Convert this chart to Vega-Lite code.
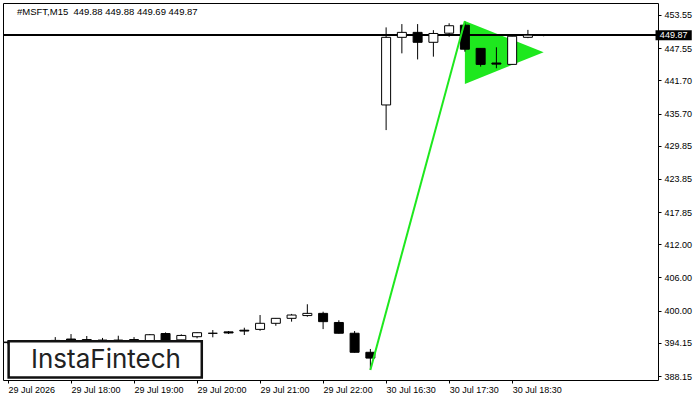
{
  "$schema": "https://vega.github.io/schema/vega-lite/v6.json",
  "width": 655,
  "height": 377,
  "autosize": {"type": "none"},
  "padding": {"left": 3, "top": 3, "right": 42, "bottom": 20},
  "background": "white",
  "config": {
    "view": {"stroke": "#000", "strokeWidth": 1},
    "font": "Liberation Sans",
    "axis": {"grid": false, "domain": false, "tickColor": "#000", "tickSize": 3, "labelColor": "#000", "labelFont": "Liberation Sans", "labelFontSize": 9, "title": null, "labelOverlap": false, "labelFlush": false}
  },
  "title": {
    "text": "#MSFT,M15\u00a0 449.88 449.88 449.69 449.87",
    "anchor": "start",
    "frame": "group",
    "orient": "top",
    "offset": -13,
    "dx": 14,
    "font": "Liberation Sans",
    "fontSize": 9.5,
    "fontWeight": "normal",
    "color": "#000"
  },
  "datasets": {
    "candles": [
      {"k": 0, "o": 394.2, "h": 394.5, "l": 393.9, "c": 394.3},
      {"k": 1, "o": 394.3, "h": 394.6, "l": 394.0, "c": 394.2},
      {"k": 2, "o": 394.2, "h": 394.5, "l": 393.9, "c": 394.4},
      {"k": 3, "o": 394.55, "h": 395.2, "l": 394.2, "c": 394.6},
      {"k": 4, "o": 394.85, "h": 395.75, "l": 394.2, "c": 394.5},
      {"k": 5, "o": 394.75, "h": 395.4, "l": 394.2, "c": 394.5},
      {"k": 6, "o": 394.6, "h": 395.05, "l": 394.3, "c": 394.65},
      {"k": 7, "o": 394.6, "h": 395.45, "l": 394.3, "c": 394.65},
      {"k": 8, "o": 394.7, "h": 395.2, "l": 394.3, "c": 394.75},
      {"k": 9, "o": 394.55, "h": 395.75, "l": 394.3, "c": 395.63},
      {"k": 10, "o": 395.85, "h": 396.05, "l": 394.3, "c": 394.6},
      {"k": 11, "o": 394.7, "h": 395.7, "l": 394.4, "c": 395.5},
      {"k": 12, "o": 395.27, "h": 396.05, "l": 394.98, "c": 396.0},
      {"k": 13, "o": 395.89, "h": 396.48, "l": 395.16, "c": 395.89},
      {"k": 14, "o": 396.15, "h": 396.3, "l": 395.76, "c": 395.95},
      {"k": 15, "o": 396.45, "h": 396.9, "l": 395.58, "c": 396.3},
      {"k": 16, "o": 396.6, "h": 399.2, "l": 396.35, "c": 397.7},
      {"k": 17, "o": 397.7, "h": 398.65, "l": 397.25, "c": 398.6},
      {"k": 18, "o": 398.6, "h": 399.4, "l": 398.0, "c": 399.2},
      {"k": 19, "o": 399.1, "h": 401.15, "l": 398.9, "c": 399.5},
      {"k": 20, "o": 399.5, "h": 399.8, "l": 396.65, "c": 398.0},
      {"k": 21, "o": 397.85, "h": 398.25, "l": 395.85, "c": 395.9},
      {"k": 22, "o": 395.9, "h": 396.3, "l": 392.4, "c": 392.45},
      {"k": 23, "o": 392.45, "h": 393.05, "l": 389.25, "c": 391.4},
      {"k": 24, "o": 437.25, "h": 451.3, "l": 432.7, "c": 449.5},
      {"k": 25, "o": 449.5, "h": 451.9, "l": 446.6, "c": 450.4},
      {"k": 26, "o": 450.4, "h": 451.9, "l": 445.5, "c": 448.6},
      {"k": 27, "o": 448.6, "h": 450.8, "l": 446.0, "c": 450.2},
      {"k": 28, "o": 450.25, "h": 452.05, "l": 449.6, "c": 451.6},
      {"k": 29, "o": 451.7, "h": 452.3, "l": 446.9, "c": 447.35},
      {"k": 30, "o": 447.5, "h": 447.55, "l": 444.2, "c": 444.6},
      {"k": 31, "o": 444.85, "h": 447.7, "l": 443.9, "c": 444.65},
      {"k": 32, "o": 444.6, "h": 449.95, "l": 444.6, "c": 449.7},
      {"k": 33, "o": 449.5, "h": 450.85, "l": 449.35, "c": 449.9},
      {"k": 34, "o": 449.88, "h": 449.88, "l": 449.69, "c": 449.87}
    ],
    "pennant": [
      {"k": 29, "top": 452.45, "bottom": 441.05},
      {"k": 34, "top": 446.8, "bottom": 446.8}
    ],
    "pole": [
      {"k1": 23, "p1": 389.25, "k2": 29, "p2": 452.45}
    ],
    "logo": [
      {"k1": 0.04, "k2": 12.3, "p1": 387.88, "p2": 394.46, "kc": 6.22, "pc": 389.55, "label": "InstaFintech"}
    ],
    "last": [
      {"k1": 41.1, "k2": 43.4, "p1": 448.97, "p2": 450.77, "kc": 42.25, "price": 449.87}
    ]
  },
  "layer": [
    {
      "data": {"name": "pennant"},
      "mark": {"type": "area", "color": "#1ee81e", "opacity": 1, "interpolate": "linear"},
      "encoding": {
        "x": {"field": "k", "type": "quantitative", "scale": {"domain": [0, 40.94], "nice": false, "zero": false},
          "axis": {"values": [0, 4, 8, 12, 16, 20, 24, 28, 32], "tickCount": 20, "labelAlign": "left", "labelPadding": 2, "labelBaseline": "top", "labelOverlap": false,
            "labelExpr": "['29 Jul 2026','29 Jul 18:00','29 Jul 19:00','29 Jul 20:00','29 Jul 21:00','29 Jul 22:00','30 Jul 16:30','30 Jul 17:30','30 Jul 18:30'][round(datum.value/4)]"}},
        "y": {"field": "top", "type": "quantitative", "scale": {"domain": [387.43, 455.72], "nice": false, "zero": false},
          "axis": {"orient": "right", "values": [388.15, 394.15, 400.0, 406.0, 412.0, 417.85, 423.85, 429.85, 435.7, 441.7, 447.55, 453.55], "tickCount": 20, "format": ".2f", "labelPadding": 3, "labelOverlap": false, "labelBound": false, "labelFlush": false}},
        "y2": {"field": "bottom"}
      }
    },
    {
      "data": {"name": "candles"},
      "mark": {"type": "rule", "color": "#000", "strokeWidth": 1},
      "encoding": {"y": {"datum": 449.87, "type": "quantitative"}}
    },
    {
      "data": {"name": "candles"},
      "mark": {"type": "rule", "color": "#000", "strokeWidth": 1, "clip": true},
      "encoding": {
        "x": {"field": "k", "type": "quantitative"},
        "y": {"field": "l", "type": "quantitative"},
        "y2": {"field": "h"}
      }
    },
    {
      "data": {"name": "candles"},
      "mark": {"type": "bar", "width": 9, "stroke": "#000", "strokeWidth": 1, "clip": true},
      "encoding": {
        "x": {"field": "k", "type": "quantitative"},
        "y": {"field": "o", "type": "quantitative"},
        "y2": {"field": "c"},
        "fill": {"condition": {"test": "datum.c > datum.o", "value": "#ffffff"}, "value": "#000000"}
      }
    },
    {
      "data": {"name": "pole"},
      "mark": {"type": "rule", "color": "#1ee81e", "strokeWidth": 2},
      "encoding": {
        "x": {"field": "k1", "type": "quantitative"},
        "x2": {"field": "k2"},
        "y": {"field": "p1", "type": "quantitative"},
        "y2": {"field": "p2"}
      }
    },
    {
      "data": {"name": "logo"},
      "mark": {"type": "rect", "fill": "#ffffff", "stroke": "#111111", "strokeWidth": 2.5},
      "encoding": {
        "x": {"field": "k1", "type": "quantitative"},
        "x2": {"field": "k2"},
        "y": {"field": "p1", "type": "quantitative"},
        "y2": {"field": "p2"}
      }
    },
    {
      "data": {"name": "logo"},
      "mark": {"type": "text", "font": "Inter", "fontSize": 26, "fontWeight": 400, "color": "#222222", "align": "center", "baseline": "alphabetic"},
      "encoding": {
        "x": {"field": "kc", "type": "quantitative"},
        "y": {"field": "pc", "type": "quantitative"},
        "text": {"field": "label"}
      }
    },
    {
      "data": {"name": "last"},
      "mark": {"type": "rect", "fill": "#000000"},
      "encoding": {
        "x": {"field": "k1", "type": "quantitative"},
        "x2": {"field": "k2"},
        "y": {"field": "p1", "type": "quantitative"},
        "y2": {"field": "p2"}
      }
    },
    {
      "data": {"name": "last"},
      "mark": {"type": "text", "font": "Liberation Sans", "fontSize": 9, "color": "#ffffff", "align": "center", "baseline": "middle"},
      "encoding": {
        "x": {"field": "kc", "type": "quantitative"},
        "y": {"field": "price", "type": "quantitative"},
        "text": {"field": "price", "type": "quantitative", "format": ".2f"}
      }
    }
  ]
}
